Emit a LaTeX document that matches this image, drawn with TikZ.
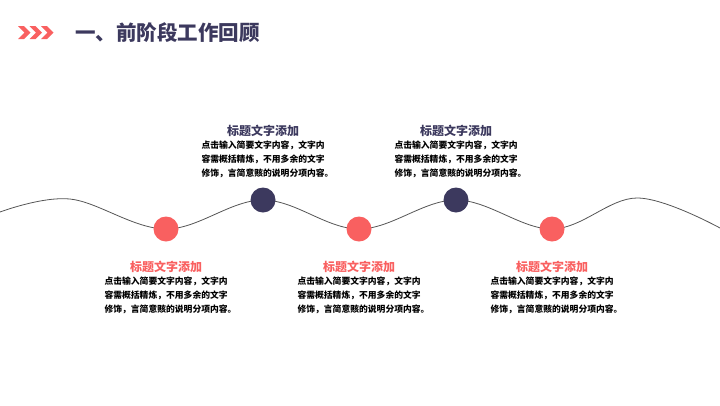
\documentclass[tikz,border=0pt]{standalone}
\usepackage{fontspec}
\newfontfamily\cjk{Noto Sans CJK SC}
\usepackage{tikz}
\usetikzlibrary{positioning}
\definecolor{navy}{RGB}{60,57,94}
\definecolor{coral}{RGB}{249,96,96}
\definecolor{waveline}{RGB}{85,85,85}
\newcommand{\bodytext}{点击输入简要文字内容，文字内\\容需概括精炼，不用多余的文字\\修饰，言简意赅的说明分项内容。}

\begin{document}
\begin{tikzpicture}[x=1pt,y=-1pt,
    dot/.style={circle,minimum size=25pt,inner sep=0pt},
    head/.style={font=\cjk\bfseries\fontsize{12}{14}\selectfont,inner sep=0pt},
    body/.style={font=\cjk\bfseries\fontsize{8.8}{13.6}\selectfont,align=left,inner sep=0pt,xshift=4.5pt}]
    \useasboundingbox (0,0) rectangle (720,405);
    % header
    \foreach \x in {18,29.5,41}
        \fill[coral] (\x,26) -- ++(6,0) -- ++(6.5,6.5) -- ++(-6.5,6.5) -- ++(-6,0) -- ++(6.5,-6.5) -- cycle;
    \node[anchor=west,inner sep=0pt,text=navy,font=\cjk\bfseries\fontsize{20.5}{24}\selectfont] (title) at (75,33) {一、前阶段工作回顾};
    % wave
    \coordinate (c1) at (166,229);
    \coordinate (c2) at (263,200);
    \coordinate (c3) at (359,229);
    \coordinate (c4) at (456,200);
    \coordinate (c5) at (552,229);
    \draw[waveline,line width=0.8pt] plot[smooth,tension=0.6] coordinates {(0,212) (70,199) (c1) (c2) (c3) (c4) (c5) (637,198) (720,228)};
    \node[dot,fill=coral] (p1) at (c1) {};
    \node[dot,fill=navy] (p2) at (c2) {};
    \node[dot,fill=coral] (p3) at (c3) {};
    \node[dot,fill=navy] (p4) at (c4) {};
    \node[dot,fill=coral] (p5) at (c5) {};
    % items above
    \node[head,text=navy] (t2) at (263,131) {标题文字添加};
    \node[body,below=4pt of t2] (b2) {\bodytext};
    \node[head,text=navy] (t4) at (456,131) {标题文字添加};
    \node[body,below=4pt of t4] (b4) {\bodytext};
    % items below
    \node[head,text=coral] (t1) at (166,267) {标题文字添加};
    \node[body,below=4pt of t1] (b1) {\bodytext};
    \node[head,text=coral] (t3) at (359,267) {标题文字添加};
    \node[body,below=4pt of t3] (b3) {\bodytext};
    \node[head,text=coral] (t5) at (552,267) {标题文字添加};
    \node[body,below=4pt of t5] (b5) {\bodytext};
\end{tikzpicture}
\end{document}
